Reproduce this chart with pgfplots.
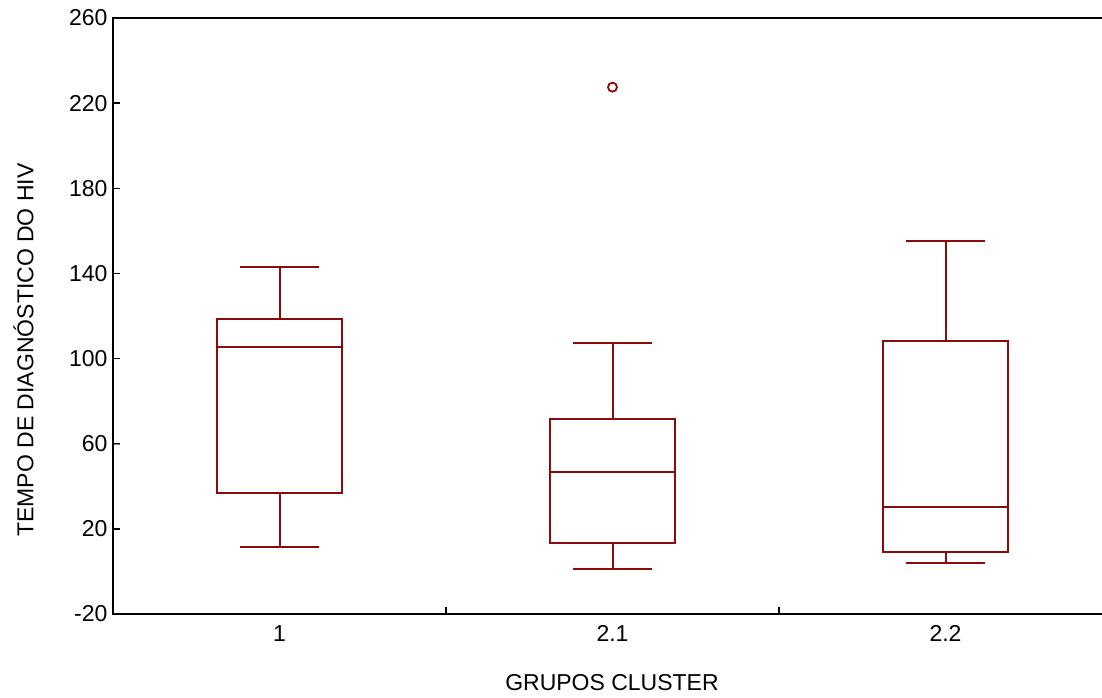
\documentclass[border=0pt]{standalone}
\usepackage{pgfplots}
\pgfplotsset{compat=1.18}
\usepgfplotslibrary{statistics}
\usepackage{fontspec}
\setmainfont{Liberation Sans}
\definecolor{boxred}{RGB}{139,10,10}
\begin{document}
\begin{tikzpicture}
\useasboundingbox (0bp,0bp) rectangle (1102bp,698bp);
\begin{axis}[
  at={(113bp,84bp)}, anchor=south west,
  scale only axis, width=989bp, height=596bp,
  xmin=0.5, xmax=3.47, ymin=-20, ymax=260,
  axis line style={draw=none},
  xtick={1,2,3}, xticklabels={1,2.1,2.2},
  minor xtick={1.5,2.5},
  ytick={-20,20,...,260},
  tick align=inside,
  xtick pos=bottom, ytick pos=left,
  major tick length=7bp, minor tick length=7bp,
  major x tick style={draw=none},
  minor x tick style={black, line width=1.5bp},
  ticklabel style={font=\fontsize{23bp}{27bp}\selectfont},
  xticklabel style={yshift=-8bp},
  yticklabel style={xshift=-2bp},
  /pgf/number format/assume math mode=true,
  clip=false,
  boxplot/draw direction=y,
  boxplot/box extend=0.375,
  boxplot/whisker extend=0.24,
  boxplot/every box/.style={draw=boxred, line width=2bp},
  boxplot/every whisker/.style={draw=boxred, line width=2bp},
  boxplot/every median/.style={draw=boxred, line width=2bp},
]
\addplot[boxplot prepared={draw position=1, lower whisker=11.5, lower quartile=36.8, median=105.4, upper quartile=118.6, upper whisker=143},
  draw=boxred, line width=2bp, solid] coordinates {};
\addplot[boxplot prepared={draw position=2, lower whisker=1.1, lower quartile=13.3, median=46.7, upper quartile=71.6, upper whisker=107.3},
  draw=boxred, line width=2bp, solid, mark=o, mark size=4.5bp, mark options={draw=boxred, line width=1.8bp, solid}] coordinates {(0,227.5)};
\addplot[boxplot prepared={draw position=3, lower whisker=4, lower quartile=9.1, median=30.3, upper quartile=108.2, upper whisker=155.2},
  draw=boxred, line width=2bp, solid] coordinates {};
\pgfplotsinvokeforeach{-20,20,60,100,140,180,220,260}{
  \draw[black, line width=1.5bp] (axis cs:0.5,#1) -- ++(7bp,0pt);
}
\draw[black, line width=2bp] (rel axis cs:1.02,1) -- (rel axis cs:0,1) -- (rel axis cs:0,0) -- (rel axis cs:1.02,0);
\end{axis}
\node[rotate=90, font=\fontsize{23bp}{27bp}\selectfont] at (23.5bp,348bp) {TEMPO DE DIAGNÓSTICO DO HIV};
\node[font=\fontsize{23bp}{27bp}\selectfont] at (612bp,15bp) {GRUPOS CLUSTER};
\end{tikzpicture}
\end{document}
